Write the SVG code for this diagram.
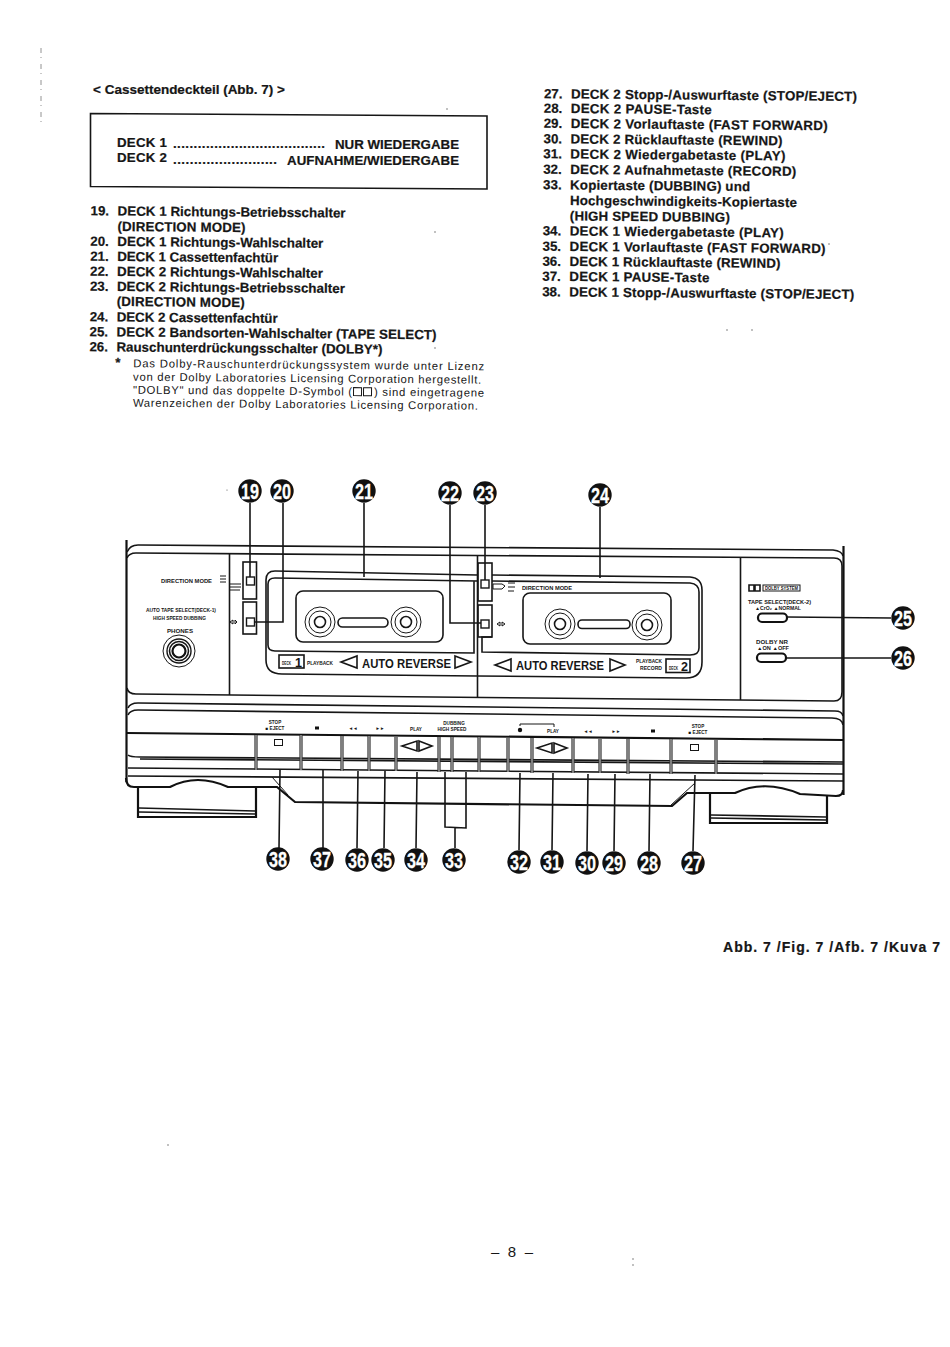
<svg xmlns="http://www.w3.org/2000/svg" width="950" height="1347" viewBox="0 0 950 1347">
<style>
text{font-family:"Liberation Sans",Arial,sans-serif;fill:#161616}
.b{font-weight:700;font-size:13.3px;stroke:#161616;stroke-width:.22}
.f{font-size:11.3px}
.t{font-size:4.6px;font-weight:700}
.ar{font-size:12.5px;font-weight:700}
.n{font-size:22px;font-weight:700;fill:#fff;stroke:#fff;stroke-width:.3;text-anchor:middle}
.l{fill:none;stroke:#161616;stroke-width:1.6}
.h{fill:none;stroke:#111;stroke-width:2.2}
.m{fill:none;stroke:#161616;stroke-width:1}
.w{fill:#fff;stroke:#161616;stroke-width:1.4}
.k{fill:#111}
.bt{fill:none;stroke:#333;stroke-width:3.2}
.bi{fill:none;stroke:#ccc;stroke-width:1}
</style>
<defs>
<g id="badge"><circle r="11.7" class="k"/></g>
<path id="keys" d="M256 735V770M301 735V770M342 736V771M369 736V771M396 737V771M439 737V772M452 737V772M479 737V772M508 738V772M532 738V773M573 738V773M600 739V773M628 739V774M671 739V774M716 740V774"/>
</defs>
<rect width="950" height="1347" fill="#fff"/>

<g id="specks" fill="#555">
<path d="M41 48V125" stroke="#777" stroke-width=".8" stroke-dasharray="5 4 1 6" fill="none"/>
<circle cx="447" cy="109" r=".7"/><circle cx="435" cy="232" r=".7"/><circle cx="435" cy="348" r=".7"/><circle cx="829" cy="244" r=".7"/><circle cx="727" cy="330" r=".7"/><circle cx="752" cy="330" r=".7"/><circle cx="168" cy="1145" r=".7"/><circle cx="633" cy="1259" r=".7"/><circle cx="633" cy="1265" r=".7"/><circle cx="227" cy="490" r=".6"/>
</g>

<g id="heading">
<text class="b" x="93" y="94" textLength="192" lengthAdjust="spacingAndGlyphs">&lt; Cassettendeckteil (Abb. 7) &gt;</text>
</g>
<g id="deck-box">
<path class="l" d="M90.500 113.500L487 116V189L90.500 186.500Z"/>
<text class="b" x="117" y="147" textLength="50">DECK 1</text>
<text class="b" x="173" y="148" textLength="152" lengthAdjust="spacing">.....................................</text>
<text class="b" x="335" y="149" textLength="124">NUR WIEDERGABE</text>
<text class="b" x="117" y="162" textLength="50">DECK 2</text>
<text class="b" x="173" y="164" textLength="104" lengthAdjust="spacing">.........................</text>
<text class="b" x="287" y="165" textLength="172">AUFNAHME/WIEDERGABE</text>
</g>

<g id="list-left" transform="rotate(.5 117 280)">
<text class="b" x="90" y="215.500">19.</text><text class="b" x="117" y="215.500" textLength="228">DECK 1 Richtungs-Betriebsschalter</text>
<text class="b" x="117" y="231" textLength="128">(DIRECTION MODE)</text>
<text class="b" x="90" y="246">20.</text><text class="b" x="117" y="246" textLength="206">DECK 1 Richtungs-Wahlschalter</text>
<text class="b" x="90" y="261">21.</text><text class="b" x="117" y="261" textLength="161">DECK 1 Cassettenfachtür</text>
<text class="b" x="90" y="276">22.</text><text class="b" x="117" y="276" textLength="206">DECK 2 Richtungs-Wahlschalter</text>
<text class="b" x="90" y="291">23.</text><text class="b" x="117" y="291" textLength="228">DECK 2 Richtungs-Betriebsschalter</text>
<text class="b" x="117" y="306" textLength="128">(DIRECTION MODE)</text>
<text class="b" x="90" y="321.500">24.</text><text class="b" x="117" y="321.500" textLength="161">DECK 2 Cassettenfachtür</text>
<text class="b" x="90" y="336.500">25.</text><text class="b" x="117" y="336.500" textLength="320">DECK 2 Bandsorten-Wahlschalter (TAPE SELECT)</text>
<text class="b" x="90" y="351.500">26.</text><text class="b" x="117" y="351.500" textLength="266">Rauschunterdrückungsschalter (DOLBY*)</text>
<text class="b" x="116" y="367">*</text>
<text class="f" x="134" y="367" textLength="351">Das Dolby-Rauschunterdrückungssystem wurde unter Lizenz</text>
<text class="f" x="134" y="380.500" textLength="348">von der Dolby Laboratories Licensing Corporation hergestellt.</text>
<text class="f" x="134" y="393.500" textLength="219">"DOLBY" und das doppelte D-Symbol (</text>
<path class="m" d="M354.500 385.500h8v8h-8zM364.500 385.500h8v8h-8z"/>
<text class="f" x="375" y="393.500" textLength="110">) sind eingetragene</text>
<text class="f" x="134" y="406.500" textLength="345">Warenzeichen der Dolby Laboratories Licensing Corporation.</text>
</g>

<g id="list-right" transform="rotate(.5 570 200)">
<text class="b" x="543" y="98.500">27.</text><text class="b" x="570" y="98.500" textLength="286">DECK 2 Stopp-/Auswurftaste (STOP/EJECT)</text>
<text class="b" x="543" y="113">28.</text><text class="b" x="570" y="113" textLength="141">DECK 2 PAUSE-Taste</text>
<text class="b" x="543" y="128">29.</text><text class="b" x="570" y="128" textLength="257">DECK 2 Vorlauftaste (FAST FORWARD)</text>
<text class="b" x="543" y="143.500">30.</text><text class="b" x="570" y="143.500" textLength="212">DECK 2 Rücklauftaste (REWIND)</text>
<text class="b" x="543" y="158.500">31.</text><text class="b" x="570" y="158.500" textLength="215">DECK 2 Wiedergabetaste (PLAY)</text>
<text class="b" x="543" y="174">32.</text><text class="b" x="570" y="174" textLength="226">DECK 2 Aufnahmetaste (RECORD)</text>
<text class="b" x="543" y="189.500">33.</text><text class="b" x="570" y="189.500" textLength="180">Kopiertaste (DUBBING) und</text>
<text class="b" x="570" y="205" textLength="227">Hochgeschwindigkeits-Kopiertaste</text>
<text class="b" x="570" y="220.500" textLength="160">(HIGH SPEED DUBBING)</text>
<text class="b" x="543" y="235.500">34.</text><text class="b" x="570" y="235.500" textLength="214">DECK 1 Wiedergabetaste (PLAY)</text>
<text class="b" x="543" y="251">35.</text><text class="b" x="570" y="251" textLength="256">DECK 1 Vorlauftaste (FAST FORWARD)</text>
<text class="b" x="543" y="266">36.</text><text class="b" x="570" y="266" textLength="211">DECK 1 Rücklauftaste (REWIND)</text>
<text class="b" x="543" y="281">37.</text><text class="b" x="570" y="281" textLength="140">DECK 1 PAUSE-Taste</text>
<text class="b" x="543" y="296.500">38.</text><text class="b" x="570" y="296.500" textLength="285">DECK 1 Stopp-/Auswurftaste (STOP/EJECT)</text>
</g>

<g id="body-upper">
<path class="h" d="M126.500 540V782"/>
<path class="h" d="M843.500 546V795"/>
<path class="l" d="M127 552Q130 545 138 545L833 550Q842 551 843 556"/>
<path class="l" d="M127 558Q129 553 136 553L834 558Q842 558 842 566V692Q842 701 834 701L136 694Q128 694 127 688"/>
<path class="l" d="M229.500 553V695M477.500 555V698M740.500 557V700"/>
<path class="l" d="M128 708Q130 703 138 703L835 711Q842 711 843 716"/>
<path class="l" d="M128 715Q130 710 138 710L832 718Q842 718 843 725"/>
<path class="h" d="M127 733L843 740"/>
<path class="l" d="M128 755Q130 757 140 757L843 762M140 759L843 764"/>
<path class="l" d="M128 768L843 774M128 776L843 781"/>
<path class="h" d="M126 778Q126 787 134 787H170Q197 773 228 787H277L295 802L672 806L687 793H735Q765 779 800 794L836 796Q843 796 843 790"/>
<path class="m" d="M272 777L288 795"/>
<path class="m" d="M671 805L695 783"/>
</g>

<g id="feet">
<path class="h" d="M138 787V817H256V788"/>
<path class="l" d="M139 808L255 811M139 812L255 814"/>
<path class="h" d="M710 794V823H827V796"/>
<path class="l" d="M711 815L826 817M711 818L826 820"/>
</g>

<g id="deck1-left">
<text class="t" x="161" y="583" textLength="51" lengthAdjust="spacingAndGlyphs">DIRECTION MODE</text>
<text class="t" x="146" y="612" textLength="70" lengthAdjust="spacingAndGlyphs">AUTO TAPE SELECT(DECK-1)</text>
<text class="t" x="153" y="620" textLength="53" lengthAdjust="spacingAndGlyphs">HIGH SPEED DUBBING</text>
<text class="t" x="167" y="633" textLength="26" lengthAdjust="spacingAndGlyphs">PHONES</text>
<circle class="m" cx="179" cy="651" r="16"/>
<circle cx="179" cy="651" r="12" fill="none" stroke="#161616" stroke-width="1.400"/>
<circle class="l" cx="179" cy="651" r="9.500"/>
<circle class="h" cx="179" cy="651" r="6.500"/>
<path class="m" d="M220 576h6M220 579h6M220 582h6M230 584h11M230 587h11M230 590h10"/>
<path class="m" d="M230 622l3-2v4zM237 622l-2-2v4z"/>
<rect class="l" x="243" y="562" width="13.500" height="37"/>
<rect class="w" x="246.500" y="577" width="8" height="8"/>
<rect class="l" x="243" y="602" width="13.500" height="32"/>
<rect class="w" x="246.500" y="618" width="8" height="8"/>
</g>

<g id="deck1-door">
<path class="l" d="M477 575L275 571Q266 571 266 580V660Q266 674 282 674L477 676"/>
<path class="l" d="M477 581L275 578Q268 578 268 584V645Q268 651 275 651L474 653V581"/>
<rect class="l" x="296" y="591" width="147" height="51" rx="7"/>
<g class="m"><circle cx="320" cy="622" r="15"/><circle cx="320" cy="622" r="11"/></g><circle class="l" cx="320" cy="622" r="5.500"/>
<g class="m"><circle cx="406" cy="622" r="15"/><circle cx="406" cy="622" r="11"/></g><circle class="l" cx="406" cy="622" r="5.500"/>
<rect class="l" x="338" y="618" width="50" height="9" rx="4.500"/>
<rect class="l" x="279" y="655" width="25" height="13"/>
<text class="t" x="282" y="665" textLength="9" lengthAdjust="spacingAndGlyphs">DECK</text>
<text class="ar" x="295" y="667" font-size="13">1</text>
<text class="t" x="307" y="665" textLength="26" lengthAdjust="spacingAndGlyphs">PLAYBACK</text>
<path class="l" d="M341 662L357 656V668Z"/>
<text class="ar" x="362" y="668" textLength="89" lengthAdjust="spacingAndGlyphs">AUTO REVERSE</text>
<path class="l" d="M455 656L471 662L455 668Z"/>
</g>

<g id="deck2-door">
<path class="l" d="M492 575L690 577Q702 578 702 590V662Q702 678 686 678L477 676"/>
<path class="l" d="M492 581L690 583Q699 584 699 592V648Q699 655 690 655L482 652V637H492"/>
<rect class="l" x="523" y="593" width="148" height="51" rx="7"/>
<g class="m"><circle cx="560" cy="624" r="15"/><circle cx="560" cy="624" r="11"/></g><circle class="l" cx="560" cy="624" r="5.500"/>
<g class="m"><circle cx="647" cy="625" r="15"/><circle cx="647" cy="625" r="11"/></g><circle class="l" cx="647" cy="625" r="5.500"/>
<rect class="l" x="578" y="620" width="52" height="8.500" rx="4"/>
<rect class="l" x="478" y="563" width="14" height="38"/>
<rect class="w" x="481" y="580" width="8" height="8"/>
<rect class="l" x="478" y="605" width="14" height="32"/>
<rect class="w" x="481" y="620" width="8" height="8"/>
<path class="m" d="M493 584h9l3 2-3 3h-9zM508 583h7M508 587h7M508 591h6"/>
<path class="m" d="M497 624l3-2v4zM505 624l-3-2v4z"/>
<text class="t" x="522" y="590" textLength="50" lengthAdjust="spacingAndGlyphs">DIRECTION MODE</text>
<path class="l" d="M495 665L511 659V671Z"/>
<text class="ar" x="516" y="670" textLength="88" lengthAdjust="spacingAndGlyphs">AUTO REVERSE</text>
<path class="l" d="M610 659L625 665L610 671Z"/>
<text class="t" x="636" y="663" textLength="26" lengthAdjust="spacingAndGlyphs">PLAYBACK</text>
<text class="t" x="640" y="670" textLength="22" lengthAdjust="spacingAndGlyphs">RECORD</text>
<rect class="l" x="666" y="659" width="24" height="13.500"/>
<text class="t" x="669" y="670" textLength="9" lengthAdjust="spacingAndGlyphs">DECK</text>
<text class="ar" x="681" y="671">2</text>
</g>

<g id="right-panel">
<path class="l" d="M749 585h5v6h-5zM755 585h5v6h-5z"/>
<rect class="m" x="763" y="585" width="37" height="6"/>
<text class="t" x="765" y="590" textLength="33" lengthAdjust="spacingAndGlyphs" font-size="4">DOLBY SYSTEM</text>
<text class="t" x="748" y="604" textLength="63" lengthAdjust="spacingAndGlyphs">TAPE SELECT(DECK-2)</text>
<text class="t" x="755" y="610" textLength="46" lengthAdjust="spacingAndGlyphs">▲CrO₂ ▲NORMAL</text>
<rect class="h" x="758" y="613.500" width="29" height="8.500" rx="4"/>
<text class="t" x="756" y="644" textLength="32" lengthAdjust="spacingAndGlyphs">DOLBY NR</text>
<text class="t" x="757" y="650" textLength="32" lengthAdjust="spacingAndGlyphs">▲ON ▲OFF</text>
<rect class="h" x="757" y="653.500" width="29" height="8.500" rx="4"/>
</g>

<g id="control-strip">
<use href="#keys" class="bt"/>
<use href="#keys" class="bi"/>
<text class="t" x="275" y="724" text-anchor="middle">STOP</text>
<text class="t" x="275" y="730" text-anchor="middle">■ EJECT</text>
<rect class="m" x="274.500" y="739.500" width="8" height="6"/>
<rect class="k" x="315" y="726.500" width="4" height="3"/>
<text class="t" x="353" y="730" text-anchor="middle">◄◄</text>
<text class="t" x="380" y="730" text-anchor="middle">►►</text>
<text class="t" x="416" y="731" text-anchor="middle">PLAY</text>
<path class="l" d="M402 746L417 741V751ZM419 741L432 746L419 751Z"/>
<text class="t" x="454" y="725" text-anchor="middle">DUBBING</text>
<text class="t" x="452" y="731" text-anchor="middle" textLength="29" lengthAdjust="spacingAndGlyphs">HIGH SPEED</text>
<circle class="k" cx="520" cy="730" r="2.200"/>
<path class="m" d="M520 726V724L554 724V727"/>
<text class="t" x="553" y="733" text-anchor="middle">PLAY</text>
<path class="l" d="M537 748L552 743V753ZM554 743L567 748L554 753Z"/>
<text class="t" x="588" y="733" text-anchor="middle">◄◄</text>
<text class="t" x="616" y="733" text-anchor="middle">►►</text>
<rect class="k" x="651" y="729.500" width="4" height="3"/>
<text class="t" x="698" y="728" text-anchor="middle">STOP</text>
<text class="t" x="698" y="734" text-anchor="middle">■ EJECT</text>
<rect class="m" x="690.500" y="744.500" width="8" height="6"/>
</g>

<g id="connectors" class="l">
<path d="M250 503V577M283 503V622H254M364 503V577M450 505V623H481M485 505V580M600 507V578"/>
<path d="M787 617L891 618M787 658L891 658"/>
<path d="M280 770L279 848M323 770V848M358 771L357 848M385 771L384 848M417 772L416 848"/>
<path d="M445 772V827L466 828V772M455 828V848"/>
<path d="M520 773L519 850M553 773L552 850M588 774L587 851M615 774L614 851M650 774L649 851M695 775L693 851"/>
</g>

<g id="n19" transform="translate(250 491)"><use href="#badge"/><text class="n" y="8" textLength="18" lengthAdjust="spacingAndGlyphs">19</text></g>
<g id="n20" transform="translate(282 491)"><use href="#badge"/><text class="n" y="8" textLength="18" lengthAdjust="spacingAndGlyphs">20</text></g>
<g id="n21" transform="translate(364 491)"><use href="#badge"/><text class="n" y="8" textLength="18" lengthAdjust="spacingAndGlyphs">21</text></g>
<g id="n22" transform="translate(450 493)"><use href="#badge"/><text class="n" y="8" textLength="18" lengthAdjust="spacingAndGlyphs">22</text></g>
<g id="n23" transform="translate(485 493)"><use href="#badge"/><text class="n" y="8" textLength="18" lengthAdjust="spacingAndGlyphs">23</text></g>
<g id="n24" transform="translate(600 495)"><use href="#badge"/><text class="n" y="8" textLength="18" lengthAdjust="spacingAndGlyphs">24</text></g>
<g id="n25" transform="translate(903 618)"><use href="#badge"/><text class="n" y="8" textLength="18" lengthAdjust="spacingAndGlyphs">25</text></g>
<g id="n26" transform="translate(903 658)"><use href="#badge"/><text class="n" y="8" textLength="18" lengthAdjust="spacingAndGlyphs">26</text></g>
<g id="n38" transform="translate(278 859)"><use href="#badge"/><text class="n" y="8" textLength="18" lengthAdjust="spacingAndGlyphs">38</text></g>
<g id="n37" transform="translate(322 859)"><use href="#badge"/><text class="n" y="8" textLength="18" lengthAdjust="spacingAndGlyphs">37</text></g>
<g id="n36" transform="translate(357 860)"><use href="#badge"/><text class="n" y="8" textLength="18" lengthAdjust="spacingAndGlyphs">36</text></g>
<g id="n35" transform="translate(383 860)"><use href="#badge"/><text class="n" y="8" textLength="18" lengthAdjust="spacingAndGlyphs">35</text></g>
<g id="n34" transform="translate(416 860)"><use href="#badge"/><text class="n" y="8" textLength="18" lengthAdjust="spacingAndGlyphs">34</text></g>
<g id="n33" transform="translate(454 860)"><use href="#badge"/><text class="n" y="8" textLength="18" lengthAdjust="spacingAndGlyphs">33</text></g>
<g id="n32" transform="translate(519 862)"><use href="#badge"/><text class="n" y="8" textLength="18" lengthAdjust="spacingAndGlyphs">32</text></g>
<g id="n31" transform="translate(552 862)"><use href="#badge"/><text class="n" y="8" textLength="18" lengthAdjust="spacingAndGlyphs">31</text></g>
<g id="n30" transform="translate(587 863)"><use href="#badge"/><text class="n" y="8" textLength="18" lengthAdjust="spacingAndGlyphs">30</text></g>
<g id="n29" transform="translate(614 863)"><use href="#badge"/><text class="n" y="8" textLength="18" lengthAdjust="spacingAndGlyphs">29</text></g>
<g id="n28" transform="translate(649 863)"><use href="#badge"/><text class="n" y="8" textLength="18" lengthAdjust="spacingAndGlyphs">28</text></g>
<g id="n27" transform="translate(693 863)"><use href="#badge"/><text class="n" y="8" textLength="18" lengthAdjust="spacingAndGlyphs">27</text></g>

<g id="captions">
<text class="b" x="723" y="952" textLength="217" style="font-size:14px">Abb. 7 /Fig. 7 /Afb. 7 /Kuva 7</text>
<text x="491" y="1257" textLength="42" style="font-size:15px;font-weight:400">– 8 –</text>
</g>
</svg>
